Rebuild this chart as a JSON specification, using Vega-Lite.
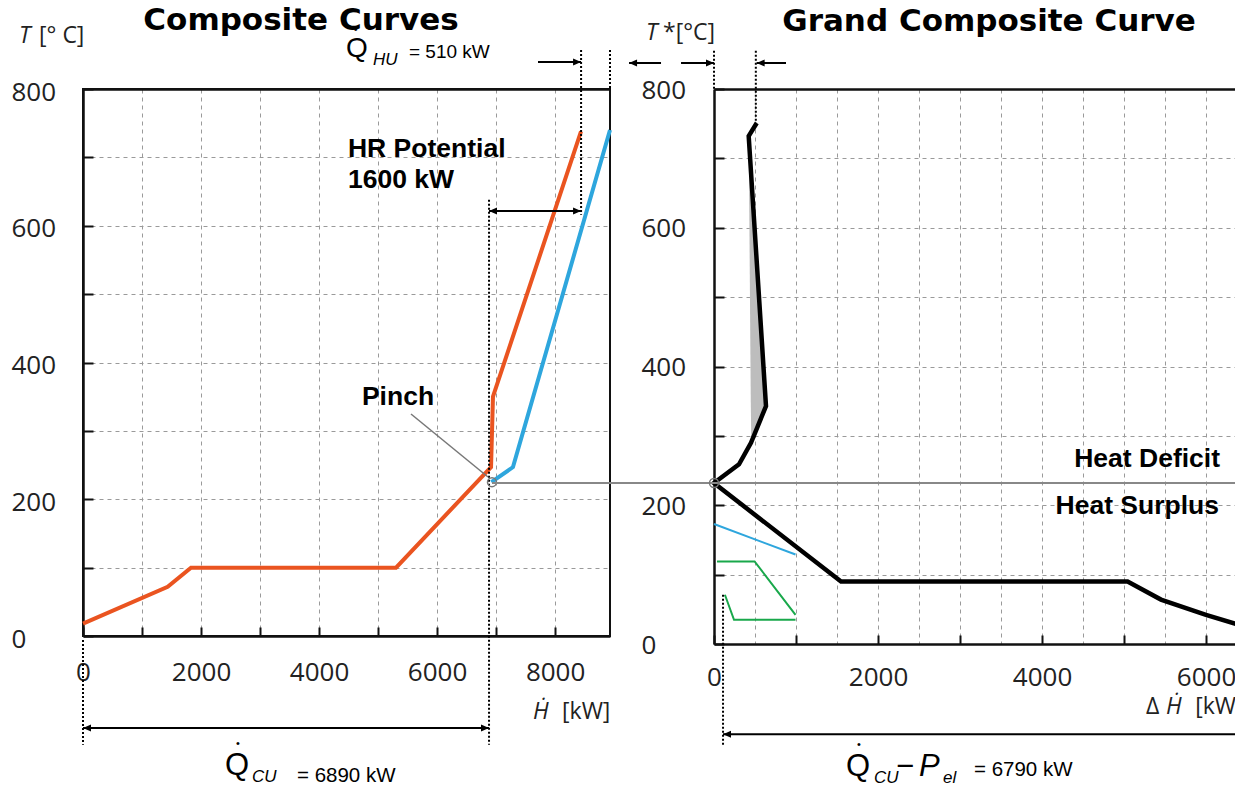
{
  "$schema": "https://vega.github.io/schema/vega-lite/v6.json",
  "background": "white",
  "padding": {"left": 10, "top": 3, "right": 0, "bottom": 0},
  "bounds": "flush",
  "spacing": 104,
  "config": {"view": {"stroke": null}},
  "datasets": {
    "hot": [{"x": 0, "T": 18}, {"x": 1435, "T": 72}, {"x": 1830, "T": 100}, {"x": 5304, "T": 100}, {"x": 6914, "T": 247}, {"x": 6947, "T": 350}, {"x": 8439, "T": 738}],
    "cold": [{"x": 6920, "T": 225}, {"x": 7286, "T": 247}, {"x": 8930, "T": 740}],
    "leftDotted": [{"x": 6880, "T": 638, "T2": -159}, {"x": 0, "T": -6, "T2": -159}, {"x": 8440, "T": 857, "T2": 616}, {"x": 8930, "T": 857, "T2": 800}],
    "leftArrows": [{"x": 6880, "x2": 8440, "T": 621.6}, {"x": 7710, "x2": 8440, "T": 839.5}, {"x": 0, "x2": 6880, "T": -134.5}],
    "leftHeads": [{"x": 6880, "T": 621.6, "dir": "L"}, {"x": 8440, "T": 621.6, "dir": "R"}, {"x": 8440, "T": 839.5, "dir": "R"}, {"x": 0, "T": -134.5, "dir": "L"}, {"x": 6880, "T": -134.5, "dir": "R"}],
    "pinchLeader": [{"x": 5558, "x2": 6863, "T": 324.7, "T2": 232.5}],
    "pinchL": [{"x": 6930, "T": 225}],
    "gcc": [{"i": 1, "x": 6360, "T": 29}, {"i": 2, "x": 5999, "T": 42}, {"i": 3, "x": 5450, "T": 64}, {"i": 4, "x": 5043, "T": 90}, {"i": 5, "x": 1549, "T": 90}, {"i": 6, "x": 0, "T": 232}, {"i": 7, "x": 305, "T": 259}, {"i": 8, "x": 451, "T": 290}, {"i": 9, "x": 634, "T": 343}, {"i": 10, "x": 423, "T": 732}, {"i": 11, "x": 521, "T": 751}],
    "pocket": [{"T": 292, "x": 455, "x2": 458}, {"T": 343, "x": 449, "x2": 634}, {"T": 732, "x": 423, "x2": 425}],
    "blueR": [{"x": 0, "T": 173}, {"x": 994, "T": 129}],
    "greens": [{"s": "a", "i": 1, "x": 37, "T": 119}, {"s": "a", "i": 2, "x": 495, "T": 119}, {"s": "a", "i": 3, "x": 994, "T": 42}, {"s": "b", "i": 1, "x": 133, "T": 71}, {"s": "b", "i": 2, "x": 244, "T": 35}, {"s": "b", "i": 3, "x": 994, "T": 35}],
    "pinchLine": [{"x": -2707, "x2": 6365, "T": 232}],
    "pinchR": [{"x": 0, "T": 232}],
    "rightDotted": [{"x": 0, "T": 855, "T2": 800}, {"x": 510, "T": 855, "T2": 751}, {"x": 110, "T": 71, "T2": -147}],
    "rightArrows": [{"x": -1036, "x2": -646, "T": 837.5}, {"x": -402, "x2": 0, "T": 837.5}, {"x": 520, "x2": 878, "T": 837.5}, {"x": 110, "x2": 6365, "T": -130}],
    "rightHeads": [{"x": -1036, "T": 837.5, "dir": "L"}, {"x": 0, "T": 837.5, "dir": "R"}, {"x": 520, "T": 837.5, "dir": "L"}, {"x": 110, "T": -130, "dir": "L"}]
  },
  "hconcat": [
    {
      "width": 527,
      "height": 547,
      "view": {"stroke": "#111", "strokeWidth": 2},
      "encoding": {
        "x": {"field": "x", "type": "quantitative", "scale": {"domain": [0, 8930], "nice": false, "zero": false},
          "axis": {"values": [0, 1000, 2000, 3000, 4000, 5000, 6000, 7000, 8000], "labelExpr": "datum.value % 2000 === 0 ? datum.label : ''", "format": "d", "title": null, "grid": true, "gridDash": [4, 4], "gridColor": "#9a9a9a", "gridWidth": 1, "tickSize": -9, "tickWidth": 2, "tickColor": "#111", "domainColor": "#111", "domainWidth": 2.5, "labelFont": "Open Sans", "labelFontSize": 26, "labelColor": "#222", "labelPadding": 32, "labelOverlap": false, "labelFlush": false}},
        "y": {"field": "T", "type": "quantitative", "scale": {"domain": [0, 800], "nice": false, "zero": false},
          "axis": {"values": [0, 100, 200, 300, 400, 500, 600, 700, 800], "labelExpr": "datum.value % 200 === 0 ? datum.label : ''", "title": null, "grid": true, "gridDash": {"condition": {"test": "datum.value === 800", "value": [1, 0]}, "value": [4, 4]}, "gridColor": {"condition": {"test": "datum.value === 800", "value": "#111"}, "value": "#9a9a9a"}, "gridWidth": {"condition": {"test": "datum.value === 800", "value": 2.5}, "value": 1}, "tickSize": -10, "tickWidth": 2, "tickColor": "#111", "domainColor": "#111", "domainWidth": 2.5, "labelFont": "Open Sans", "labelFontSize": 26, "labelColor": "#222", "labelAlign": "left", "labelBaseline": "middle", "labelPadding": 82, "labelOffset": 3, "labelOverlap": false, "labelFlush": false}}
      },
      "layer": [
        {"data": {"name": "hot"}, "mark": {"type": "line", "color": "#ea5420", "strokeWidth": 4, "clip": false}, "encoding": {}},
        {"data": {"name": "cold"}, "mark": {"type": "line", "color": "#2ea6dd", "strokeWidth": 4, "clip": false}, "encoding": {}},
        {"data": {"name": "leftDotted"}, "mark": {"type": "rule", "color": "#000", "strokeWidth": 2, "strokeDash": [2, 2], "clip": false}, "encoding": {"y2": {"field": "T2"}}},
        {"data": {"name": "leftArrows"}, "mark": {"type": "rule", "color": "#000", "strokeWidth": 2, "clip": false}, "encoding": {"x2": {"field": "x2"}}},
        {"data": {"name": "leftHeads"}, "mark": {"type": "point", "filled": true, "color": "#000", "opacity": 1, "size": 100, "clip": false},
          "encoding": {"shape": {"field": "dir", "type": "nominal", "scale": {"domain": ["L", "R"], "range": ["M0,0L1.6,-0.7L1.6,0.7Z", "M0,0L-1.6,-0.7L-1.6,0.7Z"]}, "legend": null}}},
        {"data": {"name": "pinchLeader"}, "mark": {"type": "rule", "color": "#777", "strokeWidth": 1.5, "clip": false}, "encoding": {"x2": {"field": "x2"}, "y2": {"field": "T2"}}},
        {"data": {"name": "pinchL"}, "mark": {"type": "point", "shape": "circle", "filled": false, "color": "#777", "strokeWidth": 1.5, "size": 80, "opacity": 1, "clip": false}, "encoding": {}},
        {"data": {"values": [{"x": 3694, "T": 886.4, "text": "Composite Curves"}]}, "mark": {"type": "text", "font": "DejaVu Sans", "fontWeight": "bold", "fontSize": 31, "align": "center", "baseline": "alphabetic", "color": "#000"}, "encoding": {"text": {"field": "text"}}},
        {"data": {"values": [{"x": 4490, "T": 712, "text": "HR Potential"}, {"x": 4490, "T": 667, "text": "1600 kW"}]}, "mark": {"type": "text", "font": "Liberation Sans", "fontWeight": "bold", "fontSize": 26.5, "align": "left", "baseline": "middle", "color": "#000"}, "encoding": {"text": {"field": "text"}}},
        {"data": {"values": [{"x": 5338, "T": 349.5, "text": "Pinch"}]}, "mark": {"type": "text", "font": "Liberation Sans", "fontWeight": "bold", "fontSize": 26.5, "align": "center", "baseline": "middle", "color": "#000"}, "encoding": {"text": {"field": "text"}}},
        {"data": {"values": [{"x": 4457, "T": 846.8, "text": "Q"}]}, "mark": {"type": "text", "font": "Liberation Sans", "fontSize": 28, "align": "left", "baseline": "alphabetic", "color": "#000"}, "encoding": {"text": {"field": "text"}}},
        {"data": {"values": [{"x": 2406, "T": -203, "text": "Q"}]}, "mark": {"type": "text", "font": "Liberation Sans", "fontSize": 31, "align": "left", "baseline": "alphabetic", "color": "#000"}, "encoding": {"text": {"field": "text"}}},
        {"data": {"values": [{"x": 4620, "T": 887, "text": "•"}, {"x": 2626, "T": -158, "text": "•"}]}, "mark": {"type": "text", "font": "Liberation Sans", "fontSize": 11, "align": "center", "baseline": "middle", "color": "#000"}, "encoding": {"text": {"field": "text"}}},
        {"data": {"values": [{"x": 4914, "T": 835, "text": "HU"}, {"x": 2864, "T": -213.5, "text": "CU"}]}, "mark": {"type": "text", "font": "Liberation Sans", "fontStyle": "italic", "fontSize": 17, "align": "left", "baseline": "alphabetic", "color": "#000"}, "encoding": {"text": {"field": "text"}}},
        {"data": {"values": [{"x": 5524, "T": 845.3, "text": "= 510 kW"}]}, "mark": {"type": "text", "font": "Liberation Sans", "fontSize": 19, "align": "left", "baseline": "alphabetic", "color": "#000"}, "encoding": {"text": {"field": "text"}}},
        {"data": {"values": [{"x": 3626, "T": -213, "text": "= 6890 kW"}]}, "mark": {"type": "text", "font": "Liberation Sans", "fontSize": 20.5, "align": "left", "baseline": "alphabetic", "color": "#000"}, "encoding": {"text": {"field": "text"}}},
        {"data": {"values": [{"x": -1084, "T": 877.5, "text": "T"}, {"x": 7625, "T": -111, "text": "Ḣ"}]}, "mark": {"type": "text", "font": "Open Sans", "fontStyle": "italic", "fontSize": 23, "align": "left", "baseline": "middle", "color": "#222"}, "encoding": {"text": {"field": "text"}}},
        {"data": {"values": [{"x": -745, "T": 877.5, "text": "[° C]"}, {"x": 8117, "T": -111, "text": "[kW]"}]}, "mark": {"type": "text", "font": "Open Sans", "fontSize": 23, "align": "left", "baseline": "middle", "color": "#222"}, "encoding": {"text": {"field": "text"}}}
      ]
    },
    {
      "width": 522,
      "height": 555,
      "encoding": {
        "x": {"field": "x", "type": "quantitative", "scale": {"domain": [0, 6365], "nice": false, "zero": false},
          "axis": {"values": [0, 500, 1000, 1500, 2000, 2500, 3000, 3500, 4000, 4500, 5000, 5500, 6000], "labelExpr": "datum.value % 2000 === 0 ? datum.label : ''", "format": "d", "title": null, "grid": true, "gridDash": [4, 4], "gridColor": "#9a9a9a", "gridWidth": 1, "tickSize": -9, "tickWidth": 2, "tickColor": "#111", "tickOpacity": {"condition": {"test": "datum.value % 1000 === 0", "value": 1}, "value": 0}, "domainColor": "#111", "domainWidth": 2.5, "labelFont": "Open Sans", "labelFontSize": 26, "labelColor": "#222", "labelPadding": 29, "labelOverlap": false, "labelFlush": false}},
        "y": {"field": "T", "type": "quantitative", "scale": {"domain": [0, 800], "nice": false, "zero": false},
          "axis": {"values": [0, 100, 200, 300, 400, 500, 600, 700, 800], "labelExpr": "datum.value % 200 === 0 ? datum.label : ''", "title": null, "grid": true, "gridDash": {"condition": {"test": "datum.value === 800", "value": [1, 0]}, "value": [4, 4]}, "gridColor": {"condition": {"test": "datum.value === 800", "value": "#111"}, "value": "#9a9a9a"}, "gridWidth": {"condition": {"test": "datum.value === 800", "value": 2.5}, "value": 1}, "tickSize": -10, "tickWidth": 2, "tickColor": "#111", "domainColor": "#111", "domainWidth": 2.5, "labelFont": "Open Sans", "labelFontSize": 26, "labelColor": "#222", "labelAlign": "left", "labelBaseline": "middle", "labelPadding": 83, "labelOffset": 1, "labelOverlap": false, "labelFlush": false}}
      },
      "layer": [
        {"data": {"name": "pocket"}, "mark": {"type": "area", "orient": "horizontal", "color": "#bdbdbd", "opacity": 1}, "encoding": {"x2": {"field": "x2"}}},
        {"data": {"name": "gcc"}, "mark": {"type": "line", "color": "#000", "strokeWidth": 4.5, "clip": false}, "encoding": {"order": {"field": "i", "type": "quantitative"}}},
        {"data": {"name": "blueR"}, "mark": {"type": "line", "color": "#2ea6dd", "strokeWidth": 2}, "encoding": {}},
        {"data": {"name": "greens"}, "mark": {"type": "line", "color": "#19a84b", "strokeWidth": 2}, "encoding": {"detail": {"field": "s"}, "order": {"field": "i", "type": "quantitative"}}},
        {"data": {"name": "pinchLine"}, "mark": {"type": "rule", "color": "#888", "strokeWidth": 2, "clip": false}, "encoding": {"x2": {"field": "x2"}}},
        {"data": {"name": "pinchR"}, "mark": {"type": "point", "shape": "circle", "filled": false, "color": "#777", "strokeWidth": 1.5, "size": 80, "opacity": 1, "clip": false}, "encoding": {}},
        {"data": {"name": "rightDotted"}, "mark": {"type": "rule", "color": "#000", "strokeWidth": 2, "strokeDash": [2, 2], "clip": false}, "encoding": {"y2": {"field": "T2"}}},
        {"data": {"name": "rightArrows"}, "mark": {"type": "rule", "color": "#000", "strokeWidth": 2, "clip": false}, "encoding": {"x2": {"field": "x2"}}},
        {"data": {"name": "rightHeads"}, "mark": {"type": "point", "filled": true, "color": "#000", "opacity": 1, "size": 100, "clip": false},
          "encoding": {"shape": {"field": "dir", "type": "nominal", "scale": {"domain": ["L", "R"], "range": ["M0,0L1.6,-0.7L1.6,0.7Z", "M0,0L-1.6,-0.7L-1.6,0.7Z"]}, "legend": null}}},
        {"data": {"values": [{"x": 3353, "T": 883.7, "text": "Grand Composite Curve"}]}, "mark": {"type": "text", "font": "DejaVu Sans", "fontWeight": "bold", "fontSize": 31, "align": "center", "baseline": "alphabetic", "color": "#000"}, "encoding": {"text": {"field": "text"}}},
        {"data": {"values": [{"x": 6170, "T": 266.7, "text": "Heat Deficit"}, {"x": 6158, "T": 198.9, "text": "Heat Surplus"}]}, "mark": {"type": "text", "font": "Liberation Sans", "fontWeight": "bold", "fontSize": 26.5, "align": "right", "baseline": "middle", "color": "#000"}, "encoding": {"text": {"field": "text"}}},
        {"data": {"values": [{"x": 1610, "T": -190.3, "text": "Q"}, {"x": 2219, "T": -190.3, "text": "−"}]}, "mark": {"type": "text", "font": "Liberation Sans", "fontSize": 31, "align": "left", "baseline": "alphabetic", "color": "#000"}, "encoding": {"text": {"field": "text"}}},
        {"data": {"values": [{"x": 1768, "T": -145.6, "text": "•"}]}, "mark": {"type": "text", "font": "Liberation Sans", "fontSize": 11, "align": "center", "baseline": "middle", "color": "#000"}, "encoding": {"text": {"field": "text"}}},
        {"data": {"values": [{"x": 2500, "T": -190.3, "text": "P"}]}, "mark": {"type": "text", "font": "Liberation Sans", "fontStyle": "italic", "fontSize": 31, "align": "left", "baseline": "alphabetic", "color": "#000"}, "encoding": {"text": {"field": "text"}}},
        {"data": {"values": [{"x": 1951, "T": -200.4, "text": "CU"}, {"x": 2792, "T": -200.4, "text": "el"}]}, "mark": {"type": "text", "font": "Liberation Sans", "fontStyle": "italic", "fontSize": 17, "align": "left", "baseline": "alphabetic", "color": "#000"}, "encoding": {"text": {"field": "text"}}},
        {"data": {"values": [{"x": 3170, "T": -190, "text": "= 6790 kW"}]}, "mark": {"type": "text", "font": "Liberation Sans", "fontSize": 20.5, "align": "left", "baseline": "alphabetic", "color": "#000"}, "encoding": {"text": {"field": "text"}}},
        {"data": {"values": [{"x": -829, "T": 880.7, "text": "T"}, {"x": 5512, "T": -90.8, "text": "Ḣ"}]}, "mark": {"type": "text", "font": "Open Sans", "fontStyle": "italic", "fontSize": 23, "align": "left", "baseline": "middle", "color": "#222"}, "encoding": {"text": {"field": "text"}}},
        {"data": {"values": [{"x": -622, "T": 880.7, "text": "*[°C]"}, {"x": 5268, "T": -90.8, "text": "Δ"}]}, "mark": {"type": "text", "font": "Open Sans", "fontSize": 23, "align": "left", "baseline": "middle", "color": "#222"}, "encoding": {"text": {"field": "text"}}},
        {"data": {"values": [{"x": 6365, "T": -90.8, "text": "[kW"}]}, "mark": {"type": "text", "font": "Open Sans", "fontSize": 23, "align": "right", "baseline": "middle", "color": "#222"}, "encoding": {"text": {"field": "text"}}}
      ]
    }
  ]
}
